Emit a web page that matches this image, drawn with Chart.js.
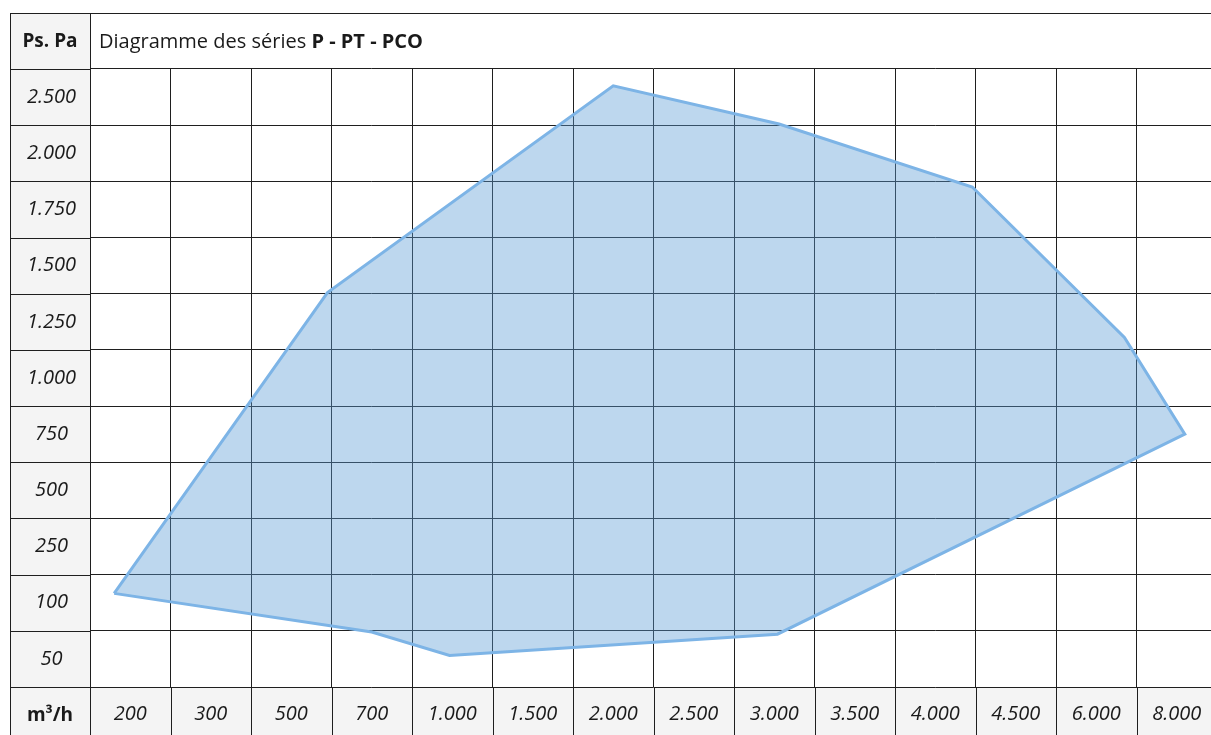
<!DOCTYPE html>
<html>
<head>
<meta charset="utf-8">
<script src="https://cdn.jsdelivr.net/npm/chart.js@4/dist/chart.umd.min.js"></script>
<style>
  html, body { margin: 0; padding: 0; background: #fff; overflow: hidden; }
  canvas { display: block; }
</style>
</head>
<body>
<canvas id="diagram" width="1218" height="743" style="width:1218px;height:743px"></canvas>
<script>
// columns (m³/h) and rows (Pa) of the table, rows listed bottom to top
const flowTicks = [200, 300, 500, 700, 1000, 1500, 2000, 2500, 3000, 3500, 4000, 4500, 6000, 8000];
const flowLabels = ['200', '300', '500', '700', '1.000', '1.500', '2.000', '2.500', '3.000', '3.500', '4.000', '4.500', '6.000', '8.000'];
const pressureTicks = [50, 100, 250, 500, 750, 1000, 1250, 1500, 1750, 2000, 2500];
const pressureLabels = ['50', '100', '250', '500', '750', '1.000', '1.250', '1.500', '1.750', '2.000', '2.500'];

// outline of the working range
const rangeFlow = [180, 590, 2000, 3030, 4230, 6700, 8200, 3020, 990, 700, 180];
const rangePressure = [125, 1380, 2600, 2260, 1850, 1180, 750, 72, 53, 74, 125];

const FONT = "'Open Sans', sans-serif";
const LINE = '#1f1f1f';
const TEXT = '#1a1a1a';
const CELL_BG = '#f4f4f4';

// the axes are not linear: place a value between the two labels around it
function toIndex(v, ticks) {
  let i = 0;
  while (i < ticks.length - 2 && v > ticks[i + 1]) i++;
  return i + (v - ticks[i]) / (ticks[i + 1] - ticks[i]);
}

const points = rangeFlow.map((f, i) => ({
  x: toIndex(f, flowTicks),
  y: toIndex(rangePressure[i], pressureTicks)
}));

const tablePlugin = {
  id: 'table',
  beforeDraw(chart) {
    const ctx = chart.ctx;
    const { bottom, left } = chart.chartArea;
    ctx.save();
    ctx.fillStyle = CELL_BG;
    ctx.fillRect(10, 13, left - 10, bottom - 13);
    ctx.fillRect(10, bottom, chart.width - 10, chart.height - bottom);
    ctx.restore();
  },
  afterDraw(chart) {
    const ctx = chart.ctx;
    const { top, bottom, left } = chart.chartArea;
    const xs = chart.scales.x, ys = chart.scales.y;
    const px = v => Math.round(v) + 0.5;
    ctx.save();
    ctx.strokeStyle = LINE;
    ctx.lineWidth = 1;
    ctx.beginPath();
    // outer frame and header row
    ctx.moveTo(10, px(13)); ctx.lineTo(chart.width, px(13));
    ctx.moveTo(10, px(top)); ctx.lineTo(left, px(top));
    ctx.moveTo(px(10), 13); ctx.lineTo(px(10), chart.height);
    ctx.moveTo(px(left), 13); ctx.lineTo(px(left), chart.height);
    // row separators through the label column
    for (let i = 0; i <= pressureLabels.length; i++) {
      const y = px(ys.getPixelForValue(i - 0.5));
      ctx.moveTo(10, y); ctx.lineTo(left, y);
    }
    // column separators through the bottom row
    for (let i = 0; i <= flowLabels.length; i++) {
      const x = px(xs.getPixelForValue(i - 0.5));
      ctx.moveTo(x, bottom); ctx.lineTo(x, chart.height);
    }
    ctx.stroke();

    ctx.fillStyle = TEXT;
    ctx.textBaseline = 'middle';
    ctx.textAlign = 'center';
    ctx.font = `bold 19px ${FONT}`;
    ctx.fillText('Ps. Pa', (10 + left) / 2, (13 + top) / 2 + 1);
    ctx.fillText('m³/h', (10 + left) / 2, (bottom + 743) / 2 + 1);

    ctx.textAlign = 'left';
    ctx.font = `20px ${FONT}`;
    const t1 = 'Diagramme des séries ';
    ctx.fillText(t1, left + 9, (13 + top) / 2 + 1);
    const w = ctx.measureText(t1).width;
    ctx.font = `bold 20px ${FONT}`;
    ctx.fillText('P - PT - PCO', left + 9 + w, (13 + top) / 2 + 1);
    ctx.restore();
  }
};

new Chart(document.getElementById('diagram'), {
  type: 'scatter',
  data: {
    datasets: [{
      data: points,
      showLine: true,
      fill: 'shape',
      tension: 0,
      borderColor: '#7db4e6',
      backgroundColor: 'rgba(91, 155, 213, 0.4)',
      borderWidth: 3,
      pointRadius: 0,
      pointHoverRadius: 0
    }]
  },
  options: {
    responsive: false,
    animation: false,
    events: [],
    layout: { padding: { left: 10, top: 69, right: 1, bottom: 0 } },
    plugins: {
      legend: { display: false },
      tooltip: { enabled: false }
    },
    scales: {
      x: {
        type: 'linear',
        min: -0.5,
        max: 13.5,
        afterBuildTicks: s => { s.ticks = flowLabels.map((_, i) => ({ value: i })); },
        afterFit: s => { s.height = 56; },
        grid: { offset: true, color: LINE, lineWidth: 1, drawTicks: false },
        border: { display: false },
        ticks: {
          autoSkip: false,
          maxRotation: 0,
          padding: 15,
          color: TEXT,
          font: { family: FONT, size: 20, style: 'italic' },
          callback: v => flowLabels[v]
        }
      },
      y: {
        type: 'linear',
        min: -0.5,
        max: 10.5,
        afterBuildTicks: s => { s.ticks = pressureLabels.map((_, i) => ({ value: i })); },
        afterFit: s => { s.width = 80; },
        grid: { offset: true, color: LINE, lineWidth: 1, drawTicks: false },
        border: { display: false },
        ticks: {
          autoSkip: false,
          crossAlign: 'center',
          padding: 14,
          color: TEXT,
          font: { family: FONT, size: 20, style: 'italic' },
          callback: v => pressureLabels[v]
        }
      }
    }
  },
  plugins: [tablePlugin]
});
</script>
</body>
</html>
